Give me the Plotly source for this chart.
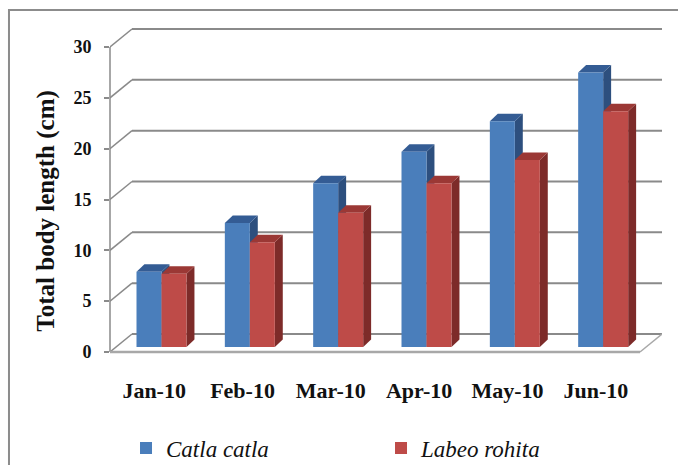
import plotly.graph_objects as go

# ---- data ----
months = ["Jan-10", "Feb-10", "Mar-10", "Apr-10", "May-10", "Jun-10"]
catla = [7.4, 12.2, 16.1, 19.2, 22.2, 27.0]
labeo = [7.2, 10.3, 13.2, 16.1, 18.4, 23.2]
y_ticks = [0, 5, 10, 15, 20, 25, 30]
series_names = ["Catla catla", "Labeo rohita"]

# ---- 3D (oblique) styling parameters in axis units ----
WALL_DX, WALL_DY = 0.249, 1.77     # depth of chart box
BAR_BASE = 0.49                    # bars sit slightly behind front edge
BAR_W = 0.283
OFFSETS = [-0.2, 0.083]
FACE_DX, FACE_DY = 0.09, 0.74      # bar depth
X_MIN, X_MAX = -0.5, 5.5

front_cols = ["#4A7EBB", "#BE4B48"]
top_cols = ["#345C94", "#9B3835"]
side_cols = ["#2D4F7E", "#7D2B29"]
grid_col = "#8A8A8A"

serif = "Times New Roman, Liberation Serif, serif"

fig = go.Figure()
shapes = []

# back wall gridlines + left wall connectors
for v in y_ticks:
    shapes.append(dict(type="line", xref="x", yref="y", layer="below",
                       x0=X_MIN + WALL_DX, y0=v + WALL_DY, x1=X_MAX + WALL_DX, y1=v + WALL_DY,
                       line=dict(color=grid_col, width=2)))
    shapes.append(dict(type="line", xref="x", yref="y", layer="below",
                       x0=X_MIN, y0=v, x1=X_MIN + WALL_DX, y1=v + WALL_DY,
                       line=dict(color=grid_col, width=1.5)))
# floor front edge and right edge
shapes.append(dict(type="line", xref="x", yref="y", layer="below",
                   x0=X_MIN, y0=0, x1=X_MAX, y1=0, line=dict(color="#A8A8A8", width=2.5)))
shapes.append(dict(type="line", xref="x", yref="y", layer="below",
                   x0=X_MAX, y0=0, x1=X_MAX + WALL_DX, y1=WALL_DY,
                   line=dict(color="#A8A8A8", width=1.5)))
# front vertical axis line
shapes.append(dict(type="line", xref="x domain", yref="y", layer="below",
                   x0=0, y0=0, x1=0, y1=y_ticks[-1], line=dict(color=grid_col, width=1.5)))

# bar side & top faces (computed from the data)
for s, vals in enumerate([catla, labeo]):
    for i, v in enumerate(vals):
        xl = i + OFFSETS[s]
        xr = xl + BAR_W
        yb = BAR_BASE
        yt = BAR_BASE + v
        side = (f"M{xr},{yb} L{xr + FACE_DX},{yb + FACE_DY} L{xr + FACE_DX},{yt + FACE_DY} "
                f"L{xr},{yt} Z")
        top = (f"M{xl},{yt} L{xr},{yt} L{xr + FACE_DX},{yt + FACE_DY} "
               f"L{xl + FACE_DX},{yt + FACE_DY} Z")
        shapes.append(dict(type="path", xref="x", yref="y", layer="between", path=side,
                           fillcolor=side_cols[s], line=dict(width=0)))
        shapes.append(dict(type="path", xref="x", yref="y", layer="between", path=top,
                           fillcolor=top_cols[s], line=dict(width=0)))

# outer frame
shapes.append(dict(type="rect", xref="paper", yref="paper",
                   x0=-0.183, y0=-0.6, x1=1.2, y1=1.0518,
                   line=dict(color="#8C8C8C", width=2), fillcolor="rgba(0,0,0,0)"))

for s, vals in enumerate([catla, labeo]):
    fig.add_trace(go.Bar(
        x=list(range(len(months))), y=vals, base=BAR_BASE, width=BAR_W, offset=OFFSETS[s],
        name=series_names[s], marker=dict(color=front_cols[s], line=dict(width=0)),
    ))

fig.update_layout(
    width=678, height=465,
    margin=dict(l=110, r=16, t=27, b=110, autoexpand=False),
    paper_bgcolor="white", plot_bgcolor="rgba(0,0,0,0)",
    barmode="overlay",
    shapes=shapes,
    showlegend=True,
    legend=dict(orientation="h", x=0.029, xanchor="left", y=-0.2835, yanchor="middle",
                font=dict(family=serif, size=23, style="italic", color="#111"),
                entrywidth=210, entrywidthmode="pixels", traceorder="normal",
                bgcolor="rgba(0,0,0,0)"),
    xaxis=dict(range=[X_MIN, X_MAX + WALL_DX], tickvals=list(range(len(months))), ticktext=months,
               showgrid=False, zeroline=False, showline=False, ticks="",
               ticklabelstandoff=20,
               tickfont=dict(family=serif, size=22, weight="bold", color="#111")),
    yaxis=dict(range=[-0.295, 31.967], tickvals=y_ticks, showgrid=False, zeroline=False,
               showline=False, ticks="outside", ticklen=5, tickcolor=grid_col, tickwidth=1.5,
               ticklabelstandoff=9,
               tickfont=dict(family=serif, size=18, weight="bold", color="#111")),
    annotations=[dict(text="Total body length (cm)", xref="paper", yref="paper",
                      x=-0.145, y=0.44, textangle=-90, showarrow=False,
                      font=dict(family=serif, size=25, weight="bold", color="#111"))],
)

fig.write_html("out.html")
